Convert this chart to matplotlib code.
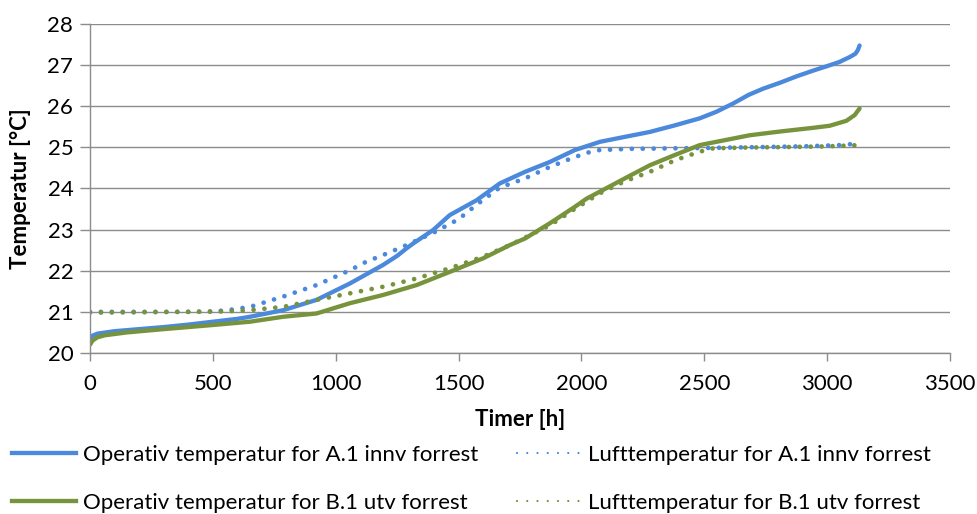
import matplotlib
matplotlib.use("Agg")
import matplotlib.pyplot as plt
from matplotlib.lines import Line2D

plt.rcParams['font.family'] = ['Lato', 'DejaVu Sans']

# ---------------- data ----------------
hours_op_a = [0, 10, 30, 100, 200, 300, 400, 500, 600, 651, 786, 922, 1058, 1193, 1250, 1288, 1315,
              1397, 1464, 1573, 1668, 1770, 1871, 1973, 2075, 2176, 2278, 2380, 2481, 2549, 2617,
              2680, 2739, 2810, 2875, 2943, 3000, 3050, 3092, 3115, 3125, 3132]
temp_op_a = [20.35, 20.42, 20.47, 20.53, 20.58, 20.63, 20.69, 20.76, 20.83, 20.88, 21.04, 21.29, 21.69,
             22.14, 22.36, 22.54, 22.66, 22.99, 23.35, 23.71, 24.12, 24.40, 24.64, 24.93, 25.13, 25.25,
             25.37, 25.53, 25.70, 25.86, 26.06, 26.27, 26.42, 26.57, 26.72, 26.86, 26.97, 27.07, 27.19,
             27.27, 27.36, 27.47]

hours_luft_a = [0, 200, 400, 500, 560, 651, 786, 922, 1058, 1125, 1193, 1288, 1400, 1500, 1573, 1668,
                1770, 1871, 1973, 2048, 2075, 2200, 2500, 2700, 2900, 3050, 3132]
temp_luft_a = [21.0, 21.0, 21.0, 21.01, 21.04, 21.12, 21.37, 21.65, 22.01, 22.22, 22.38, 22.62, 22.93,
               23.25, 23.6, 24.02, 24.24, 24.52, 24.76, 24.91, 24.93, 24.96, 24.98, 25.0, 25.02, 25.05, 25.09]

hours_op_b = [0, 10, 30, 60, 150, 300, 500, 651, 786, 922, 1058, 1193, 1329, 1464, 1600, 1708, 1770,
              1871, 1973, 2021, 2075, 2176, 2278, 2380, 2481, 2549, 2685, 2807, 2942, 3010, 3078, 3112, 3132]
temp_op_b = [20.2, 20.3, 20.38, 20.43, 20.5, 20.58, 20.68, 20.76, 20.88, 20.96, 21.21, 21.41, 21.65,
             21.97, 22.3, 22.62, 22.78, 23.15, 23.55, 23.75, 23.92, 24.24, 24.56, 24.81, 25.05, 25.13,
             25.29, 25.38, 25.47, 25.52, 25.64, 25.78, 25.94]

hours_luft_b = [0, 200, 400, 550, 651, 786, 922, 1058, 1193, 1329, 1464, 1600, 1708, 1871, 1973, 2075,
                2176, 2278, 2380, 2481, 2535, 2650, 2800, 3000, 3132]
temp_luft_b = [20.98, 20.99, 21.0, 21.01, 21.04, 21.12, 21.29, 21.45, 21.61, 21.81, 22.06, 22.34, 22.62,
               23.1, 23.5, 23.88, 24.17, 24.4, 24.68, 24.89, 24.97, 24.99, 25.0, 25.02, 25.05]

labels = ["Operativ temperatur for A.1 innv forrest",
          "Lufttemperatur for A.1 innv forrest",
          "Operativ temperatur for B.1 utv forrest",
          "Lufttemperatur for B.1 utv forrest"]

x_ticks = [0, 500, 1000, 1500, 2000, 2500, 3000, 3500]
y_ticks = [20, 21, 22, 23, 24, 25, 26, 27, 28]

# ---------------- style ----------------
BLUE = "#4A89DC"
GREEN = "#77933C"
GRID = "#8C8C8C"
LW = 3.1
DOT = (0, (0.01, 2.3))
FS = 16

fig = plt.figure(figsize=(9.77, 5.14), dpi=100)
ax = fig.add_axes([90 / 977, 1 - 353 / 514, 860 / 977, (353 - 23.7) / 514])

ax.plot(hours_op_a, temp_op_a, color=BLUE, lw=LW, solid_capstyle='round', solid_joinstyle='round')
ax.plot(hours_luft_a, temp_luft_a, color=BLUE, lw=LW + 0.3, linestyle=DOT, dash_capstyle='round')
ax.plot(hours_op_b, temp_op_b, color=GREEN, lw=LW, solid_capstyle='round', solid_joinstyle='round')
ax.plot(hours_luft_b, temp_luft_b, color=GREEN, lw=LW + 0.3, linestyle=DOT, dash_capstyle='round')

ax.set_xlim(0, 3500)
ax.set_ylim(20, 28)
ax.set_xticks(x_ticks)
ax.set_yticks(y_ticks)
ax.grid(axis='y', color=GRID, lw=1.0)
ax.set_axisbelow(True)
for s in ['top', 'right']:
    ax.spines[s].set_visible(False)
for s in ['left', 'bottom']:
    ax.spines[s].set_color(GRID)
    ax.spines[s].set_linewidth(1.0)
ax.tick_params(axis='both', colors=GRID, labelcolor='black', labelsize=FS, width=1.0)
ax.tick_params(axis='y', length=7, pad=5)
ax.tick_params(axis='x', length=6, pad=9)

ax.set_xlabel("Timer [h]", fontsize=FS, fontweight='bold', labelpad=11)
ax.set_ylabel("Temperatur [°C]", fontsize=FS, fontweight='bold', labelpad=12)

h_op_a = Line2D([], [], color=BLUE, lw=LW)
h_luft_a = Line2D([], [], color=BLUE, lw=1.6, linestyle=(0, (0.01, 4.6)), dash_capstyle='round')
h_op_b = Line2D([], [], color=GREEN, lw=LW)
h_luft_b = Line2D([], [], color=GREEN, lw=1.6, linestyle=(0, (0.01, 4.6)), dash_capstyle='round')
# column-major fill: column 1 = operative, column 2 = air
fig.legend(handles=[h_op_a, h_op_b, h_luft_a, h_luft_b],
           labels=[labels[0], labels[2], labels[1], labels[3]],
           ncol=2, loc='upper left',
           bbox_to_anchor=(12 / 977, 1 - 445 / 514), frameon=False, fontsize=FS,
           handlelength=2.9, handletextpad=0.3, columnspacing=1.72, labelspacing=1.25,
           borderaxespad=0, borderpad=0)

fig.savefig("out.png", dpi=100)
